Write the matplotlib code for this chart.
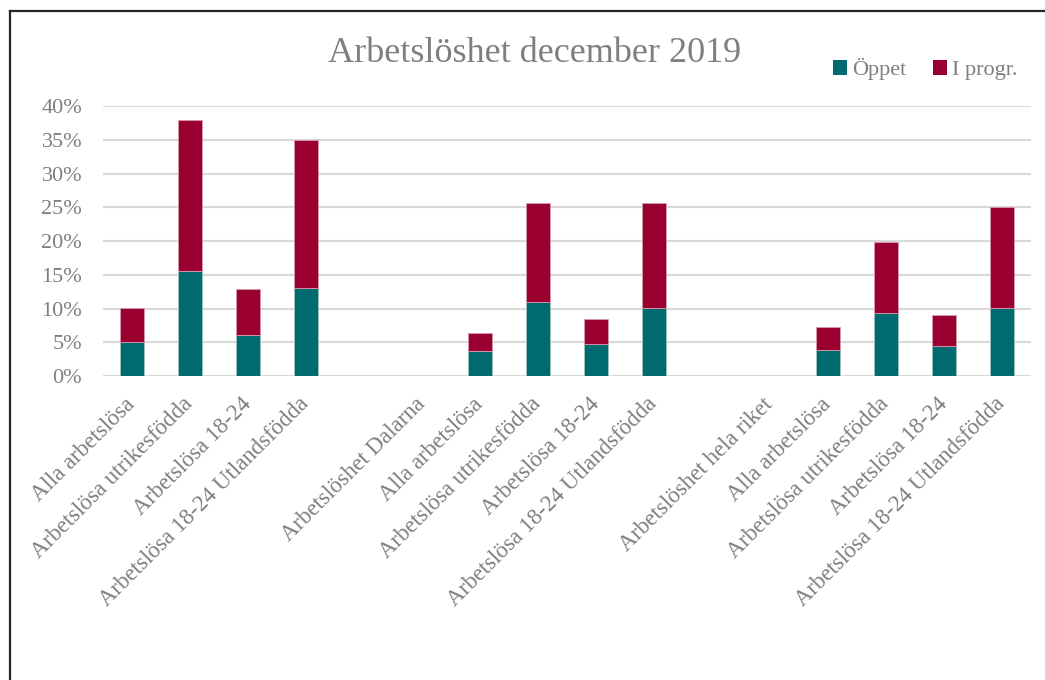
import numpy as np
import matplotlib
matplotlib.use("Agg")
import matplotlib.pyplot as plt
from matplotlib.lines import Line2D
from matplotlib.patches import Patch

categories = [
    "Alla arbetslösa", "Arbetslösa utrikesfödda", "Arbetslösa 18-24",
    "Arbetslösa 18-24 Utlandsfödda", "", "Arbetslöshet Dalarna",
    "Alla arbetslösa", "Arbetslösa utrikesfödda", "Arbetslösa 18-24",
    "Arbetslösa 18-24 Utlandsfödda", "", "Arbetslöshet hela riket",
    "Alla arbetslösa", "Arbetslösa utrikesfödda", "Arbetslösa 18-24",
    "Arbetslösa 18-24 Utlandsfödda",
]
oppet = [5.0, 15.6, 6.1, 13.1, None, None,
         3.7, 11.0, 4.8, 10.1, None, None,
         3.9, 9.3, 4.5, 10.1]
i_progr = [5.1, 22.3, 6.8, 21.9, None, None,
           2.7, 14.7, 3.6, 15.6, None, None,
           3.4, 10.5, 4.6, 14.9]
yticks = [0, 5, 10, 15, 20, 25, 30, 35, 40]
title = "Arbetslöshet december 2019"

teal = "#006A71"
crimson = "#990030"
gray_text = "#7F7F7F"

plt.rcParams["font.family"] = ["Liberation Serif", "DejaVu Serif"]

fig = plt.figure(figsize=(10.45, 6.8), dpi=100)
ax = fig.add_axes([103 / 1045, 1 - 376 / 680, (1031 - 103) / 1045, (376 - 106) / 680])

x = np.arange(len(categories))
o = np.array([np.nan if v is None else v for v in oppet], dtype=float)
p = np.array([np.nan if v is None else v for v in i_progr], dtype=float)

ax.bar(x, o, width=0.4, color=teal, edgecolor="#9fc3c6", linewidth=0.6, zorder=3, label="Öppet")
ax.bar(x, p, width=0.4, bottom=o, color=crimson, edgecolor="#d99aae", linewidth=0.6, zorder=3, label="I progr.")

ax.set_xlim(-0.5, len(categories) - 0.5)
ax.set_ylim(0, 40)
ax.set_yticks(yticks)
ax.set_yticklabels([f"{t}%" for t in yticks])
ax.yaxis.grid(True, color="#D9D9D9", linewidth=1.5, zorder=0)
ax.set_axisbelow(True)
for s in ax.spines.values():
    s.set_visible(False)
ax.tick_params(axis="both", length=0, colors=gray_text, labelsize=16)
ax.tick_params(axis="y", pad=15)
ax.set_xticks(x)
ax.set_xticklabels(categories, rotation=45, ha="right", va="center",
                   rotation_mode="anchor", fontsize=16.5, color=gray_text)
ax.tick_params(axis="x", pad=18)

fig.text(535 / 1045, 1 - 53 / 680, title, ha="center", va="center",
         fontsize=26, color=gray_text)

handles = [Patch(facecolor=teal, edgecolor="none"),
           Patch(facecolor=crimson, edgecolor="none")]
fig.legend(handles, ["Öppet", "I progr."], loc="center",
           bbox_to_anchor=(925 / 1045, 1 - 69 / 680), ncol=2, frameon=False,
           fontsize=16, labelcolor=gray_text, handlelength=0.65, handleheight=0.65,
           handletextpad=0.2, columnspacing=1.2)

# outer frame (left and top edges visible)
fig.add_artist(Line2D([10 / 1045, 10 / 1045], [0, 1 - 11 / 680],
                      transform=fig.transFigure, color="#262626", linewidth=1.6))
fig.add_artist(Line2D([10 / 1045, 1], [1 - 11 / 680, 1 - 11 / 680],
                      transform=fig.transFigure, color="#262626", linewidth=1.6))

fig.savefig("out.png", dpi=100, facecolor="white")
